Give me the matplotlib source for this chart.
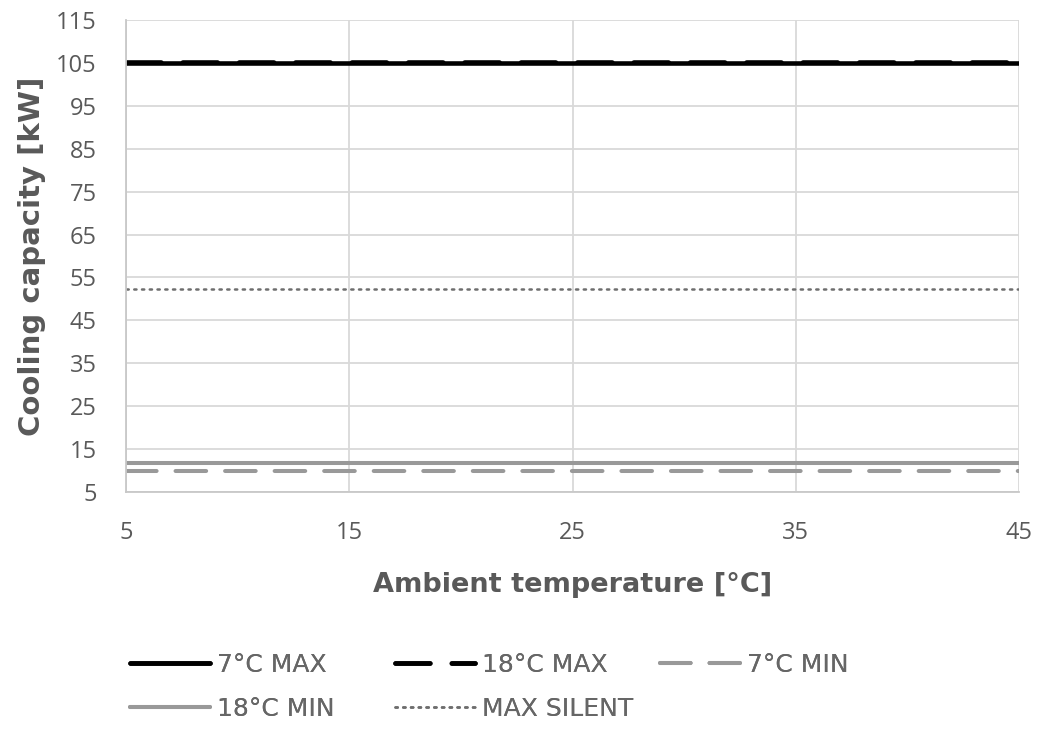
import matplotlib
matplotlib.use("Agg")
import matplotlib.pyplot as plt

plt.rcParams['font.family'] = ['Open Sans', 'DejaVu Sans']

x_temp = [5, 10, 15, 20, 25, 30, 35, 40, 45]
max_7 = [104.9] * 9
max_18 = [105.3] * 9
min_7 = [9.8] * 9
min_18 = [11.8] * 9
max_silent = [52.4] * 9

x_ticks = [5, 15, 25, 35, 45]
y_ticks = list(range(5, 116, 10))

TXT = '#595959'
GRAY = '#999999'
LW = 2.9
DASH = (7.6, 4.7)

fig = plt.figure(figsize=(10.56, 7.36), dpi=100)
ax = fig.add_axes([126/1056, 1-492/736, (1019-126)/1056, (492-20)/736])

l1, = ax.plot(x_temp, max_7, color='black', lw=LW + 0.4, solid_capstyle='round', label='7°C MAX')
l2, = ax.plot(x_temp, max_18, color='black', lw=LW + 0.4, dashes=DASH, dash_capstyle='round', label='18°C MAX')
l3, = ax.plot(x_temp, min_7, color=GRAY, lw=LW, dashes=DASH, dash_capstyle='round', label='7°C MIN')
l4, = ax.plot(x_temp, min_18, color=GRAY, lw=LW, solid_capstyle='round', label='18°C MIN')
l5, = ax.plot(x_temp, max_silent, color='#6e6e6e', lw=1.8, linestyle=(0, (0.9, 2.2)),
              dash_capstyle='round', label='MAX SILENT')

ax.set_xlim(5, 45)
ax.set_ylim(5, 115)
ax.set_xticks(x_ticks)
ax.set_yticks(y_ticks)
ax.grid(True, color='#d9d9d9', lw=1.3)
ax.set_axisbelow(True)
for s in ['top', 'right']:
    ax.spines[s].set_visible(False)
for s in ['left', 'bottom']:
    ax.spines[s].set_color('#c8c8c8')
    ax.spines[s].set_linewidth(1.3)
ax.tick_params(length=0, labelsize=17, colors=TXT)
ax.tick_params(axis='y', pad=21)
ax.tick_params(axis='x', pad=21)
ax.set_xlabel('Ambient temperature [°C]', labelpad=19, family='DejaVu Sans',
              fontsize=19.5, fontweight='bold', color=TXT)
ax.set_ylabel('Cooling capacity [kW]', labelpad=7, family='DejaVu Sans',
              fontsize=21, fontweight='bold', color=TXT)

leg_kw = dict(loc='upper left', frameon=False, prop={'family': 'DejaVu Sans', 'size': 18},
              handlelength=3.2, handletextpad=0.28, labelspacing=0.8,
              borderpad=0, borderaxespad=0, labelcolor='#666666')
columns = [([l1, l4], 130), ([l2, l5], 395), ([l3], 660)]
for hs, xpix in columns:
    lg = fig.legend(hs, [h.get_label() for h in hs], bbox_to_anchor=(xpix/1056, 1-653/736), **leg_kw)
    fig.add_artist(lg)

fig.savefig('out.png', dpi=100)
